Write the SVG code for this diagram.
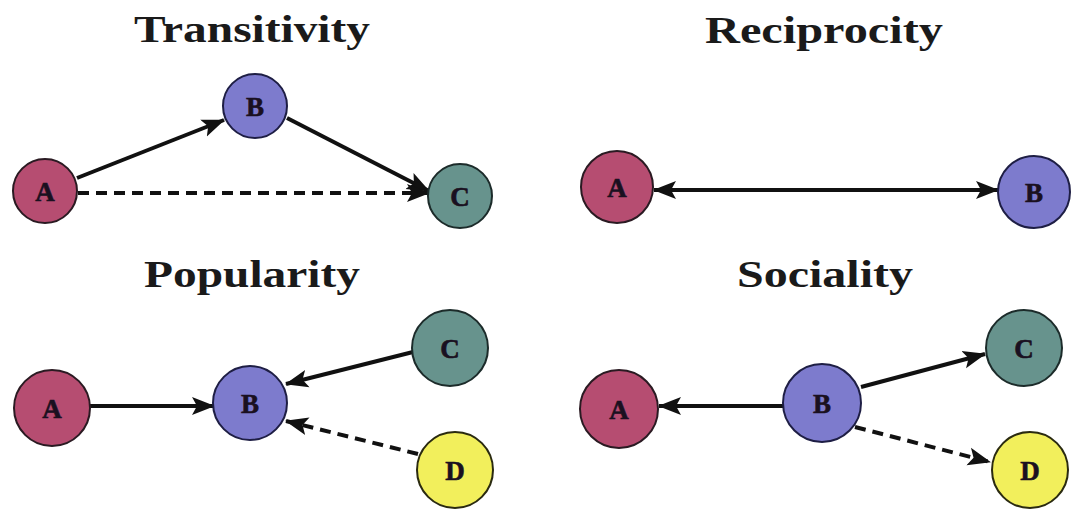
<svg xmlns="http://www.w3.org/2000/svg" width="1073" height="512" viewBox="0 0 1073 512">
<style>
.title{font-family:"Liberation Serif","DejaVu Serif",serif;font-weight:bold;font-size:38px;fill:#1a1a1a;text-anchor:middle}
.lbl{font-family:"Liberation Serif","DejaVu Serif",serif;font-weight:bold;font-size:27px;fill:#1a1020;text-anchor:middle;dominant-baseline:central;stroke:#1a1020;stroke-width:0.6}
.a{fill:#b64d71;stroke:#2a1a22;stroke-width:2}
.b{fill:#7d7bcd;stroke:#1e1e44;stroke-width:2}
.c{fill:#67938d;stroke:#1c2b2a;stroke-width:2}
.d{fill:#f2ef5c;stroke:#2a2a10;stroke-width:2}
.e{fill:none;stroke:#111;stroke-width:4}
.dash{stroke-dasharray:11 7}
</style>
<defs>
<marker id="ah" markerUnits="userSpaceOnUse" markerWidth="24" markerHeight="22" refX="22" refY="11" orient="auto-start-reverse">
<path d="M0,2 L23,11 L0,20 L5,11 Z" fill="#111"/>
</marker>
</defs>
<rect width="1073" height="512" fill="#ffffff"/>
<text class="title" x="252" y="42" textLength="236" lengthAdjust="spacingAndGlyphs">Transitivity</text>
<text class="title" x="824" y="43" textLength="238" lengthAdjust="spacingAndGlyphs">Reciprocity</text>
<text class="title" x="252" y="287" textLength="216" lengthAdjust="spacingAndGlyphs">Popularity</text>
<text class="title" x="825" y="287" textLength="176" lengthAdjust="spacingAndGlyphs">Sociality</text>
<g id="connectors">
<line class="e" x1="77" y1="178" x2="224" y2="120" marker-end="url(#ah)"/>
<line class="e" x1="287" y1="118" x2="429" y2="191" marker-end="url(#ah)"/>
<line class="e dash" x1="78" y1="193" x2="429" y2="193" marker-end="url(#ah)"/>
<line class="e" x1="654" y1="190" x2="998" y2="190" marker-start="url(#ah)" marker-end="url(#ah)"/>
<line class="e" x1="90" y1="406" x2="214" y2="406" marker-end="url(#ah)"/>
<line class="e" x1="413" y1="352" x2="286" y2="384" marker-end="url(#ah)"/>
<line class="e dash" x1="418" y1="454" x2="286" y2="421" marker-end="url(#ah)"/>
<line class="e" x1="783" y1="406" x2="659" y2="406" marker-end="url(#ah)"/>
<line class="e" x1="861" y1="387" x2="985" y2="354" marker-end="url(#ah)"/>
<line class="e dash" x1="855" y1="427" x2="990" y2="462" marker-end="url(#ah)"/>
</g>
<g id="t-A"><circle class="a" cx="45" cy="191" r="32"/><text class="lbl" x="45" y="192">A</text></g>
<g id="t-B"><circle class="b" cx="255" cy="106" r="32"/><text class="lbl" x="255" y="107">B</text></g>
<g id="t-C"><circle class="c" cx="460" cy="196" r="32"/><text class="lbl" x="460" y="197">C</text></g>
<g id="r-A"><circle class="a" cx="617" cy="187" r="36"/><text class="lbl" x="617" y="188">A</text></g>
<g id="r-B"><circle class="b" cx="1034" cy="192" r="36"/><text class="lbl" x="1034" y="193">B</text></g>
<g id="p-A"><circle class="a" cx="52" cy="408" r="38"/><text class="lbl" x="52" y="409">A</text></g>
<g id="p-B"><circle class="b" cx="250" cy="403" r="37"/><text class="lbl" x="250" y="404">B</text></g>
<g id="p-C"><circle class="c" cx="450" cy="348" r="38"/><text class="lbl" x="450" y="349">C</text></g>
<g id="p-D"><circle class="d" cx="455" cy="470" r="38"/><text class="lbl" x="455" y="471">D</text></g>
<g id="s-A"><circle class="a" cx="619" cy="409" r="39"/><text class="lbl" x="619" y="410">A</text></g>
<g id="s-B"><circle class="b" cx="822" cy="403" r="39"/><text class="lbl" x="822" y="404">B</text></g>
<g id="s-C"><circle class="c" cx="1024" cy="348" r="38"/><text class="lbl" x="1024" y="349">C</text></g>
<g id="s-D"><circle class="d" cx="1030" cy="470" r="38"/><text class="lbl" x="1030" y="471">D</text></g>
</svg>
